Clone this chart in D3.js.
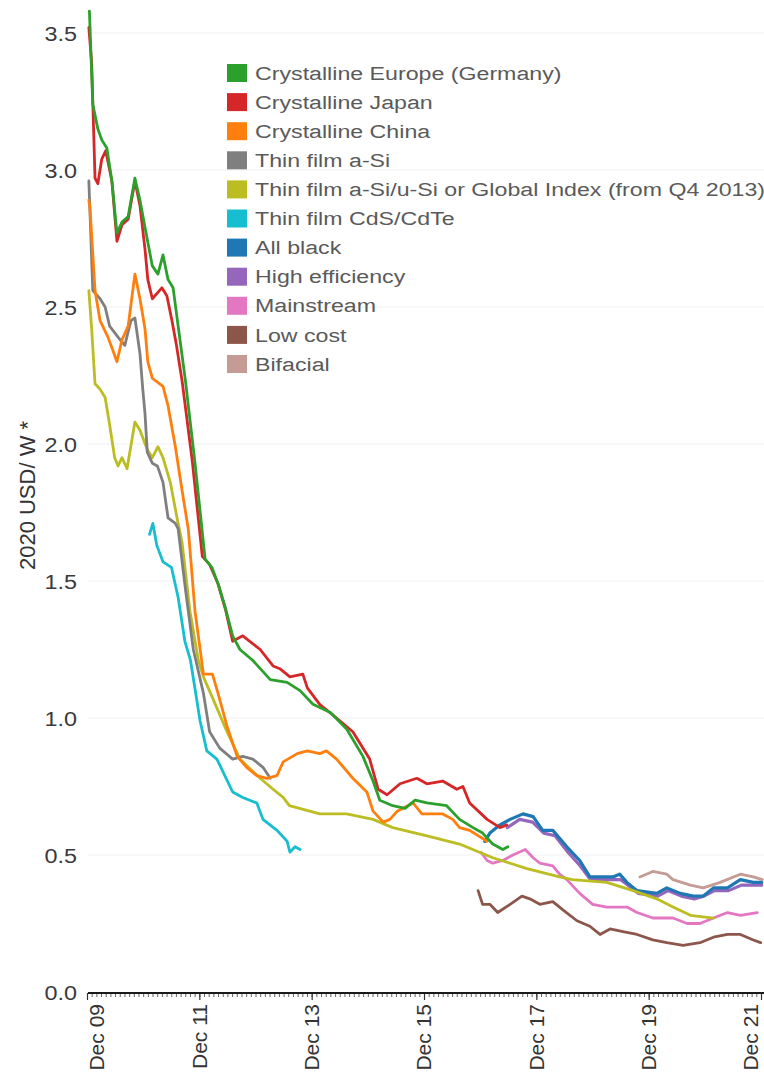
<!DOCTYPE html>
<html><head><meta charset="utf-8">
<script src="https://cdn.jsdelivr.net/npm/d3@7"></script>
<style>html,body{margin:0;padding:0;background:#fff;} svg{display:block;}</style>
</head><body>
<svg id="chart" width="764" height="1080"></svg>
<script>
// ---------- DATA (decimal year, 2020 USD/W) ----------
const seriesNames = [
  "Crystalline Europe (Germany)",
  "Crystalline Japan",
  "Crystalline China",
  "Thin film a-Si",
  "Thin film a-Si/u-Si or Global Index (from Q4 2013)",
  "Thin film CdS/CdTe",
  "All black",
  "High efficiency",
  "Mainstream",
  "Low cost",
  "Bifacial"
];

const europe = [[2009.96,3.58],[2010.02,3.24],[2010.11,3.15],[2010.18,3.11],[2010.27,3.08],[2010.36,2.96],[2010.45,2.77],[2010.54,2.81],[2010.65,2.83],[2010.77,2.97],[2010.86,2.89],[2010.95,2.79],[2011.08,2.65],[2011.18,2.62],[2011.27,2.69],[2011.36,2.60],[2011.45,2.57],[2011.54,2.43],[2011.67,2.23],[2011.84,1.93],[2012.02,1.58],[2012.14,1.55],[2012.25,1.49],[2012.37,1.41],[2012.51,1.30],[2012.64,1.25],[2012.87,1.21],[2013.18,1.14],[2013.48,1.13],[2013.71,1.10],[2013.94,1.05],[2014.25,1.02],[2014.54,0.96],[2014.83,0.86],[2015.01,0.77],[2015.13,0.70],[2015.36,0.68],[2015.58,0.67],[2015.76,0.70],[2015.97,0.69],[2016.32,0.68],[2016.55,0.63],[2016.79,0.60],[2016.96,0.58],[2017.14,0.54],[2017.32,0.52],[2017.41,0.53]];

const japan = [[2009.95,3.52],[2010.00,3.39],[2010.06,2.97],[2010.11,2.95],[2010.18,3.04],[2010.25,3.07],[2010.36,2.96],[2010.45,2.74],[2010.54,2.80],[2010.65,2.82],[2010.77,2.96],[2010.86,2.87],[2010.95,2.71],[2011.00,2.60],[2011.08,2.53],[2011.25,2.57],[2011.34,2.54],[2011.43,2.45],[2011.51,2.36],[2011.61,2.23],[2011.79,1.94],[2011.97,1.59],[2012.10,1.56],[2012.25,1.49],[2012.39,1.39],[2012.51,1.28],[2012.69,1.30],[2013.00,1.25],[2013.23,1.19],[2013.35,1.18],[2013.53,1.15],[2013.76,1.16],[2013.84,1.11],[2014.06,1.05],[2014.36,1.00],[2014.65,0.95],[2014.95,0.85],[2015.10,0.74],[2015.26,0.72],[2015.49,0.76],[2015.79,0.78],[2015.97,0.76],[2016.25,0.77],[2016.50,0.74],[2016.61,0.75],[2016.73,0.69],[2017.04,0.63],[2017.27,0.60],[2017.39,0.61]];

const china = [[2009.95,2.89],[2009.97,2.86],[2010.06,2.56],[2010.15,2.45],[2010.29,2.39],[2010.38,2.34],[2010.45,2.30],[2010.54,2.38],[2010.65,2.43],[2010.77,2.62],[2010.86,2.53],[2010.95,2.42],[2011.00,2.30],[2011.08,2.24],[2011.27,2.21],[2011.36,2.14],[2011.49,1.99],[2011.61,1.83],[2011.72,1.69],[2011.84,1.39],[2011.99,1.16],[2012.15,1.16],[2012.25,1.09],[2012.41,0.97],[2012.59,0.86],[2012.76,0.82],[2012.94,0.79],[2013.12,0.78],[2013.30,0.79],[2013.41,0.84],[2013.66,0.87],[2013.84,0.88],[2014.06,0.87],[2014.18,0.88],[2014.36,0.85],[2014.65,0.78],[2014.90,0.73],[2015.01,0.66],[2015.19,0.62],[2015.31,0.63],[2015.44,0.66],[2015.72,0.69],[2015.88,0.65],[2016.25,0.65],[2016.43,0.63],[2016.55,0.60],[2016.73,0.59],[2017.04,0.55]];

const thinASi = [[2009.95,2.96],[2010.02,2.56],[2010.15,2.53],[2010.24,2.50],[2010.32,2.43],[2010.47,2.39],[2010.59,2.36],[2010.65,2.41],[2010.70,2.45],[2010.77,2.46],[2010.86,2.33],[2010.91,2.20],[2010.95,2.11],[2010.99,1.97],[2011.08,1.93],[2011.17,1.92],[2011.27,1.86],[2011.36,1.73],[2011.49,1.71],[2011.54,1.69],[2011.67,1.47],[2011.81,1.25],[2011.99,1.09],[2012.10,0.95],[2012.28,0.89],[2012.51,0.85],[2012.69,0.86],[2012.87,0.85],[2013.05,0.82],[2013.18,0.78]];

const thinASiuSi = [[2009.95,2.56],[2010.00,2.42],[2010.06,2.22],[2010.15,2.20],[2010.24,2.17],[2010.32,2.07],[2010.41,1.95],[2010.47,1.92],[2010.54,1.95],[2010.63,1.91],[2010.77,2.08],[2010.86,2.05],[2010.99,1.98],[2011.08,1.95],[2011.18,1.99],[2011.27,1.95],[2011.40,1.86],[2011.52,1.73],[2011.61,1.64],[2011.75,1.39],[2011.90,1.21],[2011.99,1.15],[2012.16,1.07],[2012.41,0.95],[2012.64,0.85],[2013.00,0.78],[2013.23,0.74],[2013.41,0.71],[2013.52,0.68],[2013.70,0.67],[2014.06,0.65],[2014.54,0.65],[2015.01,0.63],[2015.36,0.60],[2015.97,0.57],[2016.55,0.54],[2017.14,0.49],[2017.45,0.47],[2017.75,0.45],[2018.33,0.42],[2018.56,0.41],[2019.17,0.40],[2019.64,0.37],[2020.06,0.34],[2020.35,0.31],[2020.66,0.28],[2021.07,0.27]];

const thinCdTe = [[2011.03,1.67],[2011.09,1.71],[2011.16,1.63],[2011.27,1.57],[2011.42,1.55],[2011.54,1.44],[2011.66,1.28],[2011.76,1.21],[2011.93,0.99],[2012.05,0.88],[2012.23,0.85],[2012.51,0.73],[2012.69,0.71],[2012.94,0.69],[2013.05,0.63],[2013.30,0.59],[2013.48,0.55],[2013.53,0.51],[2013.62,0.53],[2013.71,0.52]];

const allBlack = [[2017.00,0.55],[2017.09,0.58],[2017.27,0.61],[2017.45,0.63],[2017.68,0.65],[2017.86,0.64],[2018.03,0.59],[2018.21,0.59],[2018.46,0.53],[2018.69,0.48],[2018.87,0.42],[2019.05,0.42],[2019.28,0.42],[2019.40,0.43],[2019.53,0.40],[2019.71,0.37],[2020.06,0.36],[2020.24,0.38],[2020.48,0.36],[2020.71,0.35],[2020.89,0.35],[2021.07,0.38],[2021.32,0.38],[2021.55,0.41],[2021.78,0.40],[2021.93,0.40]];

const highEfficiency = [[2017.40,0.60],[2017.62,0.63],[2017.85,0.62],[2018.05,0.58],[2018.25,0.57],[2018.48,0.51],[2018.70,0.46],[2018.88,0.41],[2019.06,0.41],[2019.30,0.41],[2019.42,0.41],[2019.55,0.39],[2019.73,0.36],[2020.08,0.35],[2020.26,0.37],[2020.50,0.35],[2020.73,0.34],[2020.90,0.35],[2021.09,0.37],[2021.34,0.37],[2021.57,0.39],[2021.80,0.39],[2021.93,0.39]];

const mainstream = [[2016.93,0.51],[2017.04,0.48],[2017.14,0.47],[2017.32,0.48],[2017.50,0.50],[2017.72,0.52],[2017.86,0.49],[2017.98,0.47],[2018.21,0.46],[2018.33,0.43],[2018.46,0.41],[2018.69,0.36],[2018.92,0.32],[2019.17,0.31],[2019.53,0.31],[2019.71,0.29],[2019.99,0.27],[2020.35,0.27],[2020.60,0.25],[2020.83,0.25],[2021.07,0.27],[2021.32,0.29],[2021.55,0.28],[2021.85,0.29]];

const lowCost = [[2016.88,0.37],[2016.96,0.32],[2017.09,0.32],[2017.23,0.29],[2017.45,0.32],[2017.66,0.35],[2017.80,0.34],[2017.98,0.32],[2018.21,0.33],[2018.39,0.30],[2018.64,0.26],[2018.87,0.24],[2019.05,0.21],[2019.23,0.23],[2019.46,0.22],[2019.71,0.21],[2019.99,0.19],[2020.24,0.18],[2020.53,0.17],[2020.83,0.18],[2021.07,0.20],[2021.32,0.21],[2021.55,0.21],[2021.78,0.19],[2021.91,0.18]];

const bifacial = [[2019.76,0.42],[2019.99,0.44],[2020.24,0.43],[2020.35,0.41],[2020.66,0.39],[2020.89,0.38],[2021.19,0.40],[2021.55,0.43],[2021.78,0.42],[2021.94,0.41]];

const seriesData = [europe, japan, china, thinASi, thinASiuSi, thinCdTe, allBlack, highEfficiency, mainstream, lowCost, bifacial];
const seriesColors = ["#2ca02c","#d62728","#ff7f0e","#7f7f7f","#bcbd22","#17becf","#1f77b4","#9467bd","#e377c2","#8c564b","#c49c94"];

const yTicks = [0, 0.5, 1.0, 1.5, 2.0, 2.5, 3.0, 3.5];
const xTickYears = [2009.917, 2011.917, 2013.917, 2015.917, 2017.917, 2019.917, 2021.917];
const xTickLabels = ["Dec 09","Dec 11","Dec 13","Dec 15","Dec 17","Dec 19","Dec 21"];
const yTitle = "2020 USD/ W *";

// ---------- CHART ----------
const svg = d3.select("#chart");
const W = 764, H = 1080;
const x = d3.scaleLinear().domain([2009.917, 2021.917]).range([87, 761]);
const y = d3.scaleLinear().domain([0, 3.5]).range([992, 33]);
const plotLeft = 88, plotRight = W;
const font = "'Liberation Sans', Arial, sans-serif";

// gridlines
svg.append("g").selectAll("line").data(yTicks.filter(v => v > 0)).join("line")
  .attr("x1", plotLeft).attr("x2", plotRight)
  .attr("y1", d => y(d)).attr("y2", d => y(d))
  .attr("stroke", "#efefef").attr("stroke-width", 1);

// y tick labels
const yAxis = svg.append("g").attr("transform", "translate(77,0)")
  .call(d3.axisLeft(y).tickValues(yTicks).tickSize(0).tickFormat(d3.format(".1f")));
yAxis.select(".domain").remove();
yAxis.selectAll("text")
  .attr("x", 0).attr("dy", "0.36em")
  .attr("transform", "scale(1.2,1)")
  .style("font-family", font)
  .style("font-size", "19.5px").attr("fill", "#3a3a3a");

// y title
svg.append("text")
  .attr("transform", `translate(35,${(y(0)+y(3.5))/2 - 17}) rotate(-90)`)
  .attr("text-anchor", "middle")
  .style("font-family", font)
  .style("font-size", "22px").attr("fill", "#333")
  .text(yTitle);

// x axis: minor monthly ticks
const monthTicks = d3.range(0, 12 * 12 + 1).map(i => 2009.917 + i / 12);
const xMinor = svg.append("g").attr("transform", "translate(0,993)")
  .call(d3.axisBottom(x).tickValues(monthTicks).tickSize(4).tickFormat(""));
xMinor.select(".domain").remove();
xMinor.selectAll("line").attr("stroke", "#666").attr("stroke-width", 1);

const xMajor = svg.append("g").attr("transform", "translate(0,993)")
  .call(d3.axisBottom(x).tickValues(xTickYears).tickSize(7).tickFormat(""));
xMajor.select(".domain").remove();
xMajor.selectAll("line").attr("stroke", "#333").attr("stroke-width", 1.2);

svg.append("line").attr("x1", plotLeft).attr("x2", plotRight)
  .attr("y1", 993).attr("y2", 993).attr("stroke", "#1a1a1a").attr("stroke-width", 2.2);

// x labels (rotated), kept inside the picture
svg.append("g").selectAll("text").data(xTickYears).join("text")
  .attr("transform", d => `translate(${Math.min(Math.max(x(d), 97), W - 13)},1004) rotate(-90)`)
  .attr("text-anchor", "end").attr("dy", "0.35em")
  .style("font-family", font)
  .style("font-size", "21px").attr("fill", "#333")
  .text((d, i) => xTickLabels[i]);

// lines (drawn reverse so first series are on top)
const line = d3.line().x(d => x(d[0])).y(d => y(d[1]));
const order = d3.range(seriesData.length).reverse();
svg.append("g").selectAll("path").data(order).join("path")
  .attr("d", i => line(seriesData[i]))
  .attr("fill", "none")
  .attr("stroke", i => seriesColors[i])
  .attr("stroke-width", i => (i === 6 || i === 7) ? 3.2 : 2.8)
  .attr("stroke-linejoin", "round").attr("stroke-linecap", "round");

// legend
const legend = svg.append("g");
const rows = legend.selectAll("g").data(seriesNames).join("g")
  .attr("transform", (d, i) => `translate(227,${64 + i * 29.1})`);
rows.append("rect").attr("width", 20).attr("height", 18).attr("fill", (d, i) => seriesColors[i]);
rows.append("text")
  .attr("transform", "translate(28,9) scale(1.22,1)")
  .attr("dy", "0.35em")
  .style("font-family", font)
  .style("font-size", "19px").attr("fill", "#5a5a5a")
  .text(d => d);
</script>
</body></html>
